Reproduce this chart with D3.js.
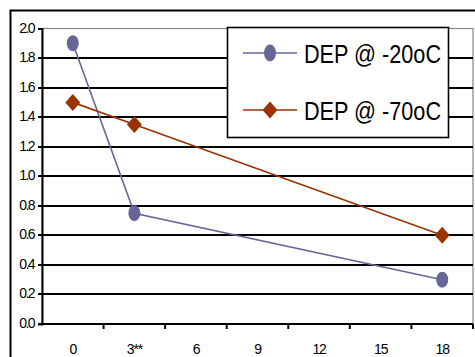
<!DOCTYPE html>
<html>
<head>
<meta charset="utf-8">
<script src="https://cdn.jsdelivr.net/npm/d3@7"></script>
<style>
  html, body { margin: 0; padding: 0; background: #fff; }
  svg { display: block; font-family: "Liberation Sans", Arial, sans-serif; }
</style>
</head>
<body>
<svg id="chart" width="475" height="357"></svg>
<script>
// Storage time categories (x axis)
const categories = ["0", "3**", "6", "9", "12", "15", "18"];
// DEP values per category; null = not measured
const dep20 = [1.9, 0.75, null, null, null, null, 0.3];
const dep70 = [1.5, 1.35, null, null, null, null, 0.6];
// Y axis ticks
const yTicks = [0, 0.2, 0.4, 0.6, 0.8, 1.0, 1.2, 1.4, 1.6, 1.8, 2.0];

const seriesNames = ["DEP @ -20oC", "DEP @ -70oC"];
const colors = ["#666699", "#993300"];

const svg = d3.select("#chart");
const plot = { left: 42, right: 473, top: 28.5, bottom: 324 };

const x = d3.scaleBand().domain(categories).range([plot.left, plot.right]).padding(0);
const y = d3.scaleLinear().domain([0, 2]).range([plot.bottom, plot.top]);
const crisp = v => Math.round(v);

// Outer chart frame (right and bottom edges fall outside the view)
svg.append("path")
  .attr("d", "M10.5,360 L10.5,10.5 L480,10.5")
  .attr("fill", "none").attr("stroke", "#000").attr("stroke-width", 2);

// Plot area frame
svg.append("rect")
  .attr("x", plot.left).attr("y", plot.top)
  .attr("width", plot.right - plot.left).attr("height", plot.bottom - plot.top)
  .attr("fill", "#fff").attr("stroke", "#888").attr("stroke-width", 1.2);

// Horizontal gridlines
svg.append("g").selectAll("line")
  .data(yTicks.filter(v => v > 0 && v < 2))
  .join("line")
  .attr("x1", plot.left).attr("x2", plot.right)
  .attr("y1", d => crisp(y(d))).attr("y2", d => crisp(y(d)))
  .attr("stroke", "#000").attr("stroke-width", 2);

// Y axis
const yAxis = svg.append("g")
  .attr("transform", `translate(${plot.left},0)`)
  .call(d3.axisLeft(y).tickValues(yTicks).tickFormat(d3.format(".1f")).tickSize(4).tickPadding(4));
yAxis.select(".domain").attr("stroke", "#000").attr("stroke-width", 2);
yAxis.selectAll(".tick").attr("transform", d => `translate(0,${crisp(y(d))})`);
yAxis.selectAll(".tick line").attr("stroke", "#000").attr("stroke-width", 2);
yAxis.selectAll(".tick text")
  .attr("font-size", 14).attr("fill", "#000")
  .attr("font-family", "Liberation Sans, Arial, sans-serif")
  .attr("letter-spacing", "-1.6px");

// X axis: ticks at category boundaries, labels centred in each band
const xAxisG = svg.append("g").attr("transform", `translate(0,${plot.bottom})`);
xAxisG.append("line")
  .attr("x1", plot.left).attr("x2", plot.right)
  .attr("stroke", "#000").attr("stroke-width", 2);
const bounds = categories.map(c => x(c) + x.bandwidth());
xAxisG.selectAll("line.tk").data(bounds).join("line")
  .attr("class", "tk")
  .attr("x1", d => d).attr("x2", d => d)
  .attr("y1", 0).attr("y2", 5)
  .attr("stroke", "#000").attr("stroke-width", 2);
xAxisG.selectAll("text").data(categories).join("text")
  .attr("x", d => x(d) + x.bandwidth() / 2)
  .attr("y", 30)
  .attr("text-anchor", "middle")
  .attr("font-size", 14)
  .attr("letter-spacing", "-1.2px")
  .text(d => d);

// Series lines and markers
const line = d3.line()
  .x(d => x(d.c) + x.bandwidth() / 2)
  .y(d => y(d.v));

function seriesData(vals) {
  return categories.map((c, i) => ({ c, v: vals[i] })).filter(d => d.v !== null);
}

const diamond = (cx, cy) => `M${cx},${cy - 8.5} L${cx + 7.5},${cy} L${cx},${cy + 8.5} L${cx - 7.5},${cy} Z`;

[dep20, dep70].forEach((vals, si) => {
  const data = seriesData(vals);
  svg.append("path")
    .datum(data)
    .attr("d", line)
    .attr("fill", "none")
    .attr("stroke", colors[si])
    .attr("stroke-width", 1.6);
  const g = svg.append("g");
  data.forEach(d => {
    const cx = x(d.c) + x.bandwidth() / 2, cy = y(d.v);
    if (si === 0) {
      g.append("ellipse").attr("cx", cx).attr("cy", cy).attr("rx", 6).attr("ry", 8).attr("fill", colors[si]);
    } else {
      g.append("path").attr("d", diamond(cx, cy)).attr("fill", colors[si]);
    }
  });
});

// Legend
const legend = svg.append("g");
legend.append("rect")
  .attr("x", 227.5).attr("y", 27.5).attr("width", 221).attr("height", 110)
  .attr("fill", "#fff").attr("stroke", "#000").attr("stroke-width", 1.6);
const legendY = [53, 110];
seriesNames.forEach((name, i) => {
  const ly = legendY[i];
  legend.append("line")
    .attr("x1", 243).attr("x2", 297).attr("y1", ly).attr("y2", ly)
    .attr("stroke", colors[i]).attr("stroke-width", 1.6);
  if (i === 0) {
    legend.append("ellipse").attr("cx", 270).attr("cy", ly).attr("rx", 6).attr("ry", 8.5).attr("fill", colors[i]);
  } else {
    legend.append("path").attr("d", diamond(270, ly)).attr("fill", colors[i]);
  }
  legend.append("text")
    .attr("x", 304).attr("y", ly + 10)
    .attr("font-size", 26.5)
    .attr("textLength", 137)
    .attr("lengthAdjust", "spacingAndGlyphs")
    .attr("fill", "#000")
    .text(name);
});
</script>
</body>
</html>
